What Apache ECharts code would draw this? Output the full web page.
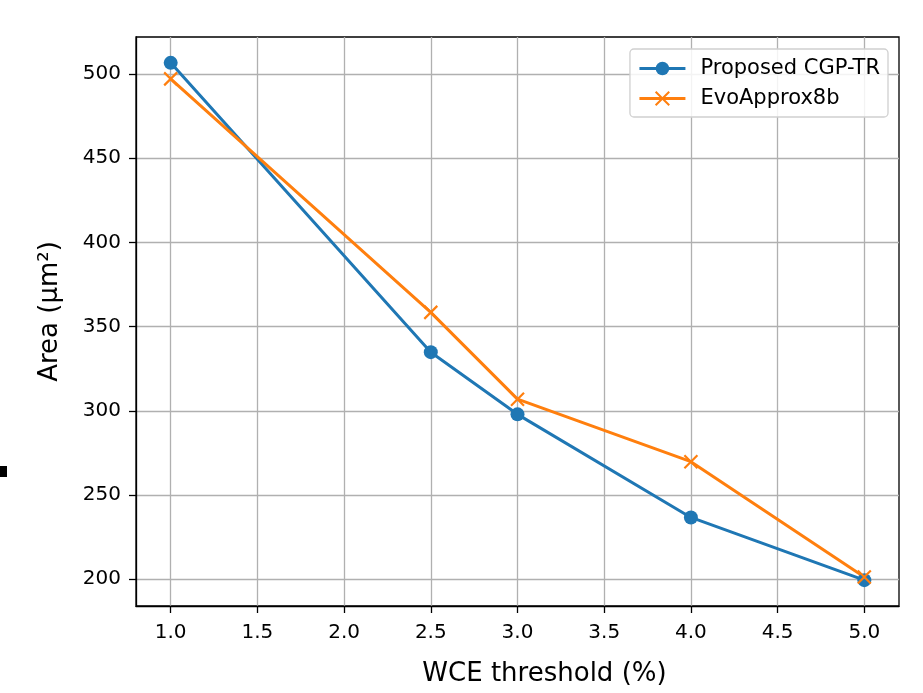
<!DOCTYPE html>
<html><head><meta charset="utf-8">
<script src="https://cdn.jsdelivr.net/npm/echarts@6/dist/echarts.min.js"></script>
<style>html,body{margin:0;padding:0;background:#fff}#c{width:923px;height:693px}</style>
</head><body><div id="c"></div>
<script>
const xValues = [1.0, 2.5, 3.0, 4.0, 5.0];
const proposed = [506.5, 334.8, 297.9, 236.7, 199.5];
const evo = [497, 358.4, 306.9, 269.8, 201.4];
const xTicks = [1.0, 1.5, 2.0, 2.5, 3.0, 3.5, 4.0, 4.5, 5.0];
const yTicks = [200, 250, 300, 350, 400, 450, 500];
const seriesNames = ['Proposed CGP-TR', 'EvoApprox8b'];

const font = 'DejaVu Sans';
const chart = echarts.init(document.getElementById('c'));
const crossPath = 'path://M0,0L10,10M10,0L0,10';
chart.setOption({
  animation: false,
  grid: {left: 136, top: 37, right: 24, bottom: 87, show: true, borderColor: '#000', borderWidth: 1.3},
  xAxis: {
    type: 'value', min: 0.8, max: 5.2,
    name: 'WCE threshold (%)', nameLocation: 'middle', nameGap: 55,
    nameTextStyle: {fontFamily: font, fontSize: 26, color: '#000', padding: [0, 0, 0, 54]},
    axisLine: {show: true, onZero: false, lineStyle: {color: '#000', width: 1.3}},
    axisTick: {show: true, length: 7, customValues: xTicks, lineStyle: {color: '#000', width: 1.3}},
    axisLabel: {customValues: xTicks, fontFamily: font, fontSize: 20, color: '#000', margin: 17,
      formatter: v => v.toFixed(1)},
    splitLine: {show: true, customValues: xTicks, lineStyle: {color: '#b0b0b0', width: 1.3}}
  },
  yAxis: {
    type: 'value', min: 184.15, max: 521.85,
    name: 'Area (µm²)', nameLocation: 'middle', nameGap: 73,
    nameTextStyle: {fontFamily: font, fontSize: 26, color: '#000', padding: [0, 0, 0, 20]},
    axisLine: {show: true, onZero: false, lineStyle: {color: '#000', width: 1.3}},
    axisTick: {show: true, length: 7, customValues: yTicks, lineStyle: {color: '#000', width: 1.3}},
    axisLabel: {customValues: yTicks, fontFamily: font, fontSize: 20, color: '#000', margin: 15},
    splitLine: {show: true, customValues: yTicks, lineStyle: {color: '#b0b0b0', width: 1.3}}
  },
  legend: {
    top: 49, right: 35, orient: 'vertical', itemGap: 9, itemWidth: 46, itemHeight: 17,
    padding: [9, 8, 8, 8],
    backgroundColor: 'rgba(255,255,255,0.85)', borderColor: '#d0d0d0', borderWidth: 1.3, borderRadius: 4,
    textStyle: {fontFamily: font, fontSize: 21, color: '#000', padding: [0, 0, 0, 10]},
    lineStyle: {width: 3},
    data: seriesNames
  },
  series: [
    {name: seriesNames[0], type: 'line', data: xValues.map((x, i) => [x, proposed[i]]),
      symbol: 'circle', symbolSize: 14, color: '#1f77b4',
      lineStyle: {width: 3, color: '#1f77b4'}, itemStyle: {color: '#1f77b4'}},
    {name: seriesNames[1], type: 'line', data: xValues.map((x, i) => [x, evo[i]]),
      symbol: crossPath, symbolSize: 13, color: '#ff7f0e',
      lineStyle: {width: 3, color: '#ff7f0e'},
      itemStyle: {color: '#ff7f0e', borderColor: '#ff7f0e', borderWidth: 2.2}}
  ],
  graphic: [{type: 'rect', shape: {x: 0, y: 466, width: 7, height: 11}, style: {fill: '#000'}}]
});
</script></body></html>
